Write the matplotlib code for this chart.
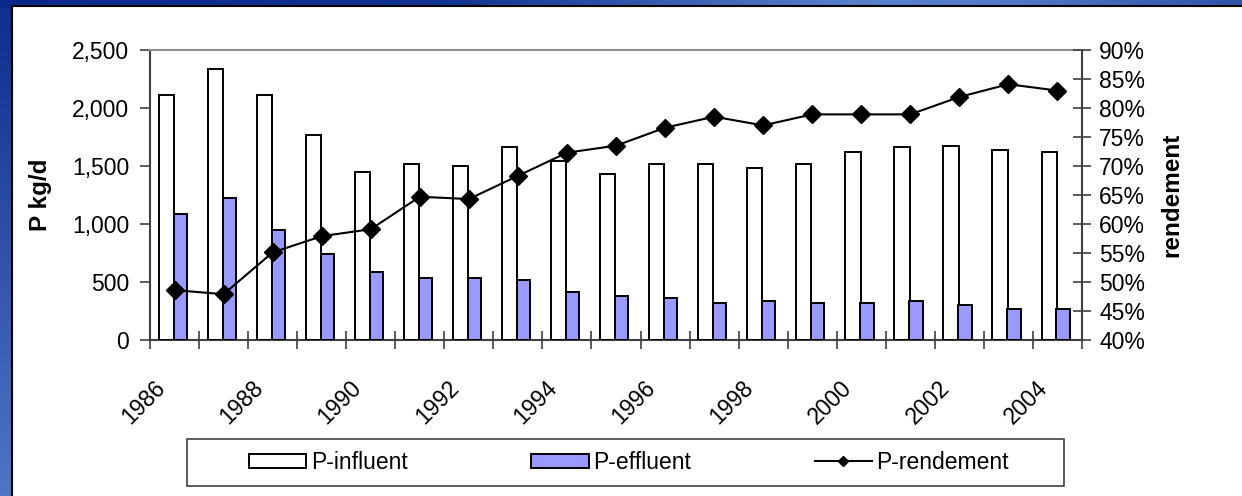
import matplotlib.pyplot as plt
import numpy as np
from matplotlib.patches import Rectangle
from matplotlib.lines import Line2D
from matplotlib.patches import Patch
from matplotlib.ticker import FuncFormatter, PercentFormatter
import matplotlib.transforms as mtransforms

# --- DATA ---
years = list(range(1986, 2005))
influent = [2110, 2340, 2110, 1770, 1450, 1520, 1500, 1660, 1545, 1430,
            1520, 1520, 1485, 1520, 1620, 1660, 1675, 1640, 1620]
effluent = [1090, 1220, 950, 740, 590, 535, 535, 515, 415, 380,
            360, 320, 340, 320, 320, 340, 300, 265, 265]
rendement = [48.6, 47.9, 55.1, 57.9, 59.1, 64.7, 64.3, 68.3, 72.3, 73.5,
             76.6, 78.5, 77.0, 78.9, 78.9, 78.9, 81.9, 84.1, 83.0]

W, H = 1242, 496
plt.rcParams['font.family'] = ['Liberation Sans', 'DejaVu Sans']
FS = 16.5

fig = plt.figure(figsize=(W / 100, H / 100), dpi=100)

# blue gradient frame (top strip varies along x, left strip along y)
bg = fig.add_axes([0, 0, 1, 1])
yy, xx = np.mgrid[0:H, 0:W]
t_top = np.interp(xx, [0, 450, 850, 1000, 1242], [0.0, 0.1, 0.85, 0.8, 0.4])
t_left = np.interp(yy, [0, H], [0.05, 0.75])
t = np.where(yy < 8, t_top, t_left)[..., None]
c0 = np.array([10, 40, 138]) / 255
c1 = np.array([100, 145, 215]) / 255
bg.imshow(c0 + (c1 - c0) * t, aspect='auto', extent=[0, 1, 0, 1])
bg.set_xlim(0, 1)
bg.set_ylim(0, 1)
bg.axis('off')
bg.add_patch(Rectangle((12 / W, -0.1), 1.2, 1.1 - 6 / H, facecolor='white',
                       edgecolor='black', linewidth=1.5))

ax = fig.add_axes([150 / W, (H - 340) / H, 932 / W, 290 / H])
ax.set_facecolor('none')
x = np.arange(len(years))

ax.bar(x - 0.17, influent, width=0.31, color='white', edgecolor='black', linewidth=1.4, zorder=3)
ax.bar(x + 0.115, effluent, width=0.27, color='#9999FF', edgecolor='black', linewidth=1.4, zorder=3)

ax.set_xlim(-0.5, len(years) - 0.5)
ax.set_ylim(0, 2500)
ax.set_yticks(np.arange(0, 2501, 500))
ax.yaxis.set_major_formatter(FuncFormatter(lambda v, p: f'{v:,.0f}'))
ax.tick_params(axis='y', direction='out', length=7, width=1.2, color='#404040',
               labelsize=FS, pad=8)

ax.set_xticks(x[::2])
ax.set_xticklabels([str(y) for y in years[::2]], rotation=45, ha='right',
                   va='center', rotation_mode='anchor', fontsize=FS)
ax.set_xticks(np.arange(-0.5, len(years), 1), minor=True)
ax.tick_params(axis='x', which='major', length=0, pad=32)
ax.tick_params(axis='x', which='minor', direction='inout', length=13, width=1.2, color='#404040')
shift = mtransforms.ScaledTranslation(-13 / 100, 0, fig.dpi_scale_trans)
for lab in ax.get_xticklabels():
    lab.set_transform(lab.get_transform() + shift)

ax.set_ylabel('P kg/d', fontsize=17.5, fontweight='bold')
ax.yaxis.set_label_coords(-0.105, 0.5)

ax.spines['top'].set_color('#909090')
ax.spines['top'].set_linewidth(1.5)
ax.spines['left'].set_color('#404040')
ax.spines['left'].set_linewidth(1.5)
ax.spines['bottom'].set_color('#404040')
ax.spines['bottom'].set_linewidth(1.5)
ax.spines['right'].set_visible(False)

ax2 = ax.twinx()
ax2.plot(x, rendement, color='black', linewidth=1.5, marker='D', markersize=9, zorder=4)
ax2.set_ylim(40, 90)
ax2.set_yticks(np.arange(40, 91, 5))
ax2.yaxis.set_major_formatter(PercentFormatter(xmax=100, decimals=0))
ax2.tick_params(axis='y', direction='inout', length=13, width=1.2, color='#404040',
                labelsize=FS, pad=6)
ax2.set_ylabel('rendement', fontsize=17.5, fontweight='bold')
ax2.yaxis.set_label_coords(1.084, 0.5)
for s in ['top', 'bottom', 'left']:
    ax2.spines[s].set_visible(False)
ax2.spines['right'].set_color('#404040')
ax2.spines['right'].set_linewidth(1.5)

# legend
fig.add_artist(Rectangle((187 / W, (H - 486) / H), 877 / W, 47 / H, transform=fig.transFigure,
                         facecolor='white', edgecolor='#404040', linewidth=1.2))
handles = [Patch(facecolor='white', edgecolor='black', linewidth=1.4),
           Patch(facecolor='#9999FF', edgecolor='black', linewidth=1.4),
           Line2D([], [], color='black', linewidth=1.5, marker='D', markersize=5)]
fig.legend(handles, ['P-influent', 'P-effluent', 'P-rendement'], ncol=3,
           loc='center', bbox_to_anchor=(629 / W, (H - 462.5) / H),
           frameon=False, fontsize=FS, handlelength=2.5, handleheight=0.55,
           handletextpad=0.2, columnspacing=5.4, borderpad=0, borderaxespad=0)

fig.savefig('out.png', dpi=100)
